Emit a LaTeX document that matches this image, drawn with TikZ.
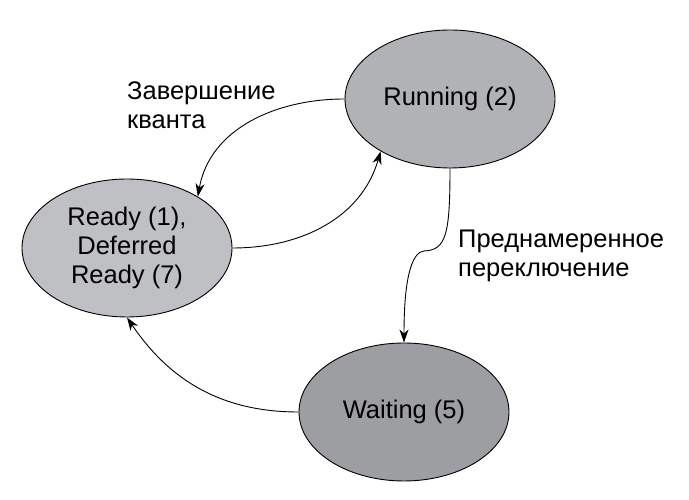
\documentclass[tikz,border=0pt]{standalone}
\usepackage{fontspec}
\setmainfont{Liberation Sans}
\usetikzlibrary{arrows.meta,shapes.geometric}
\definecolor{readyfill}{RGB}{191,192,196}
\definecolor{runfill}{RGB}{177,178,182}
\definecolor{waitfill}{RGB}{157,158,162}
\begin{document}
\begin{tikzpicture}[x=1pt,y=1pt,
  state/.style={ellipse, draw=black, line width=0.9pt, minimum width=210pt,
    minimum height=138pt, inner sep=0pt, align=center,
    font=\fontsize{25.5}{29}\selectfont},
  conn/.style={line width=0.9pt, -{Stealth[length=13pt, width=9pt, inset=4pt]}},
  lbl/.style={font=\fontsize{25.5}{28.5}\selectfont, align=left, inner sep=0pt}]
\useasboundingbox (0,0) rectangle (689,500);
\node[state, fill=runfill] (run) at (450,401) {Running (2)};
\node[state, fill=readyfill] (ready) at (127,252) {Ready (1),\\Deferred\\Ready (7)};
\node[state, fill=waitfill] (wait) at (404,88) {Waiting (5)};
\coordinate (bend) at (424,249);
\node[lbl, anchor=base west] (l1) at (127,371.5) {Завершение\\кванта};
\node[lbl, anchor=base west] (l2) at (458,223.5) {Преднамеренное\\переключение};
\draw[conn] (run.west) to[out=180, in=80] (ready.36);
\draw[conn] (ready.east) to[out=0, in=254] (run.217);
\draw[conn] (run.south) .. controls (450,265) and (446,250) .. (bend)
  .. controls (414,248) and (404,230) .. (wait.north);
\draw[conn] (wait.west) to[out=180, in=-56] (ready.south);
\end{tikzpicture}
\end{document}
